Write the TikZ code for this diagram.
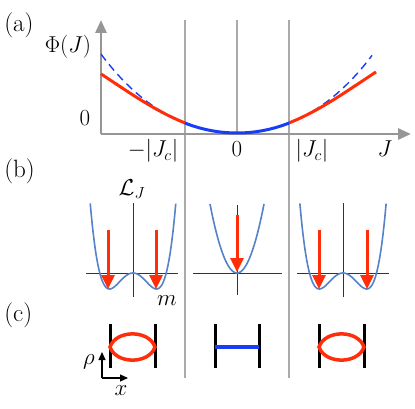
\documentclass[tikz,border=0pt]{standalone}
\usetikzlibrary{arrows.meta}
\definecolor{phired}{RGB}{255,45,10}
\definecolor{phiblue}{RGB}{25,60,245}
\definecolor{wellblue}{RGB}{85,130,200}
\definecolor{axisgray}{RGB}{150,150,150}
\definecolor{linegray}{RGB}{170,170,170}

\begin{document}
\begin{tikzpicture}[
                x=1pt, y=-1pt,
                font=\LARGE,
                ax/.style={draw=axisgray, line width=2.8pt, -{Triangle[width=11pt,length=13pt]}},
                sep/.style={draw=linegray, line width=1.2pt},
                redc/.style={draw=phired, line width=3pt},
                bluec/.style={draw=phiblue, line width=3pt},
                dashc/.style={draw=phiblue, line width=1.4pt, dash pattern=on 8pt off 5pt},
                well/.style={draw=wellblue, line width=1.6pt},
                thinax/.style={draw=black!80, line width=1pt},
                drop/.style={draw=phired, line width=3pt, -{Triangle[width=13pt,length=14pt]}},
                wall/.style={draw=black, line width=3pt},
                lens/.style={draw=phired, line width=3.5pt},
                frame/.style={draw=black, line width=1.2pt, -{Triangle[width=7pt,length=8pt]}},
                lbl/.style={inner sep=0pt, scale=1.33},
                panel/.style={inner sep=0pt, scale=1.45, anchor=base west}
            ]
                \useasboundingbox (0,0) rectangle (415,409);

                % separators
                \draw[sep] (185,20) -- (185,378);
                \draw[sep] (289,20) -- (289,378);
                \draw[sep] (237,20) -- (237,133);

                % (a) axes
                \coordinate (O) at (101,134);
                \coordinate (Ytop) at (101,20);
                \coordinate (Xend) at (411,134);
                \draw[ax] (O) -- (Ytop);
                \draw[ax] (O) -- (Xend);

                % (a) Phi(J)
                \draw[dashc] plot[domain=-136:-52, samples=40] ({237+\x},{133-35.78*(\x/100)^2-3.73*(\x/100)^4});
                \draw[dashc] plot[domain=52:135, samples=40] ({237+\x},{133-35.78*(\x/100)^2-3.73*(\x/100)^4});
                \draw[redc] plot[domain=-136:-52, samples=40] ({237+\x},{133.5-40.27*(\x/100)^2+4.36*(\x/100)^4});
                \draw[redc] plot[domain=52:139, samples=40] ({237+\x},{133.5-40.27*(\x/100)^2+4.36*(\x/100)^4});
                \draw[bluec] plot[domain=-52:52, samples=40] ({237+\x},{133-35.78*(\x/100)^2-3.73*(\x/100)^4});

                \node[panel] (lba) at (4,32) {(a)};
                \node[lbl] (phi) at (68,47) {$\Phi(J)$};
                \node[lbl] (zeroy) at (85,118) {$0$};
                \node[lbl, anchor=base] (mjc) at (153,157) {$-|J_c|$};
                \node[lbl, anchor=base] (zerox) at (237,157) {$0$};
                \node[lbl, anchor=base] (pjc) at (312,157) {$|J_c|$};
                \node[lbl, anchor=base] (jx) at (385,157) {$J$};

                % (b) landscapes
                \node[panel] (lbb) at (4,177) {(b)};
                \node[lbl] (lj) at (132,189) {$\mathcal{L}_J$};
                \node[lbl, anchor=base] (mm) at (167,305) {$m$};

                % left
                \draw[thinax] (86,273) -- (178,273);
                \draw[thinax] (133,203) -- (133,297);
                \draw[well] plot[domain=-1.82:1.82, samples=80] ({133+23.5*\x},{273-16*(\x*\x*\x*\x-2*\x*\x)});
                \draw[drop] (108,230) -- (108,289);
                \draw[drop] (156,230) -- (156,289);

                % middle
                \draw[thinax] (193,273) -- (282,273);
                \draw[thinax] (237,205) -- (237,295);
                \draw[well] plot[domain=-27:27, samples=60] ({237+\x},{273-69*(\x/27)^2});
                \draw[drop] (237,215) -- (237,272);

                % right
                \draw[thinax] (297,273) -- (389,273);
                \draw[thinax] (343,203) -- (343,297);
                \draw[well] plot[domain=-1.82:1.82, samples=80] ({343+23.7*\x},{273-16*(\x*\x*\x*\x-2*\x*\x)});
                \draw[drop] (319,230) -- (319,289);
                \draw[drop] (367,230) -- (367,289);

                % (c) profiles
                \node[panel] (lbc) at (4,321) {(c)};

                \draw[wall] (110,324) -- (110,368);
                \draw[wall] (155,324) -- (155,368);
                \draw[lens] (110,347) .. controls (116,329.5) and (149,329.5) .. (155,347)
                            .. controls (149,364.5) and (116,364.5) .. cycle;

                \draw[wall] (215,324) -- (215,368);
                \draw[wall] (259,324) -- (259,368);
                \draw[bluec, line width=3.5pt] (215,347) -- (259,347);

                \draw[wall] (319,324) -- (319,368);
                \draw[wall] (364,324) -- (364,368);
                \draw[lens] (319,347) .. controls (325,329.5) and (358,329.5) .. (364,347)
                            .. controls (358,364.5) and (325,364.5) .. cycle;

                % frame
                \coordinate (F) at (102,378);
                \coordinate (Fup) at (102,352);
                \coordinate (Fright) at (128,378);
                \draw[frame] (F) -- (Fup);
                \draw[frame] (F) -- (Fright);
                \node[lbl] (rho) at (89,362) {$\rho$};
                \node[lbl] (xl) at (121,391) {$x$};
            \end{tikzpicture}
\end{document}
